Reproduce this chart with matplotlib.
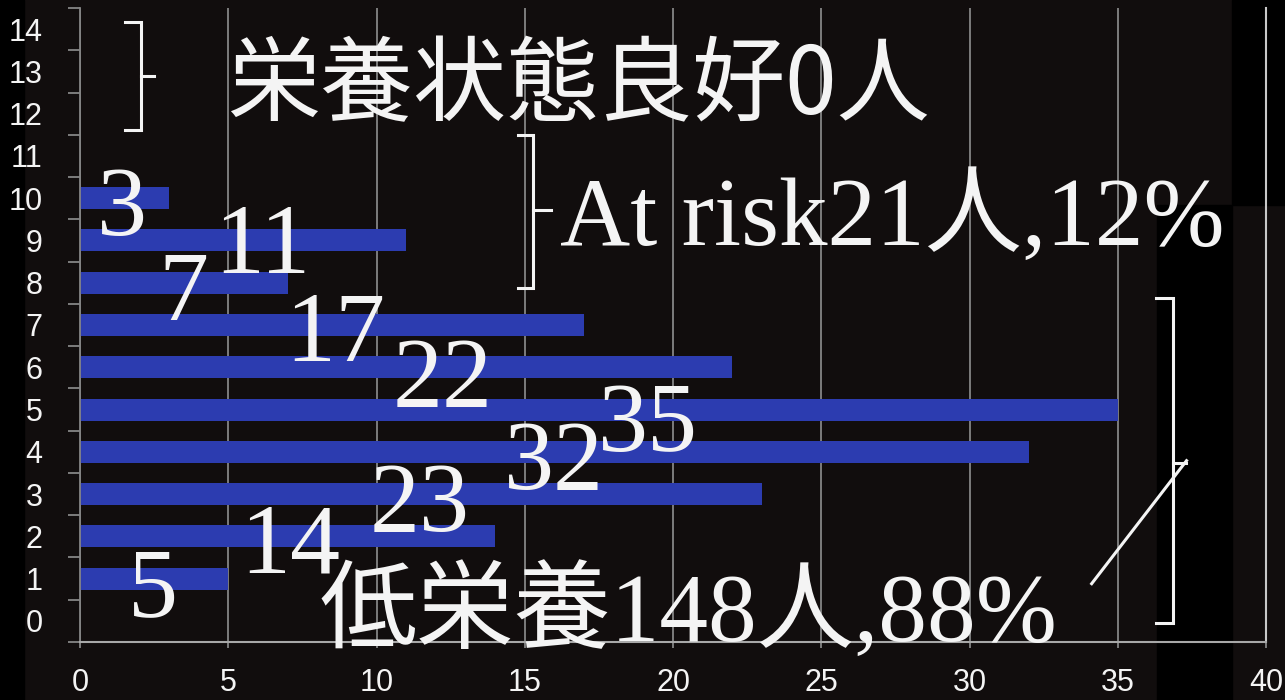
import matplotlib.pyplot as plt
from matplotlib.patches import Rectangle

# MNA score distribution (score -> number of people)
scores = list(range(15))
counts = [0, 5, 14, 23, 32, 35, 22, 17, 7, 11, 3, 0, 0, 0, 0]
xticks = [0, 5, 10, 15, 20, 25, 30, 35, 40]

# where each count label sits (x, baseline y) for the non-empty bars
label_pos = {1: (2.46, 0.12), 2: (7.08, 1.14), 3: (11.46, 2.13),
             4: (16.0, 3.13), 5: (19.15, 4.03), 6: (12.24, 5.09),
             7: (8.6, 6.16), 8: (3.47, 7.11), 9: (6.14, 8.22),
             10: (1.42, 9.12)}

good_text = '栄養状態良好0人'
risk_text = 'At risk21人,12%'
low_text = '低栄養148人,88%'

bg = '#110d0d'
fg = '#f4f4f4'
grid_c = '#858585'
serif = ['Liberation Serif', 'Noto Sans CJK JP']

fig = plt.figure(figsize=(12.85, 7.0), dpi=100, facecolor=bg)
ax = fig.add_axes([80 / 1285, 58 / 700, 1186 / 1285, 634 / 700])
ax.patch.set_visible(False)

# black blocks pasted over the slide
for x0, y0, w, h in [(0, 0, 24, 700), (1232, 495, 53, 205), (1157, 0, 75, 495)]:
    fig.add_artist(Rectangle((x0 / 1285, y0 / 700), w / 1285, h / 700,
                             transform=fig.transFigure, color='black',
                             zorder=-1))

ax.barh(scores, counts, height=0.52, color='#2c3cb0', zorder=2)

ax.set_xlim(0, 40)
ax.set_ylim(-0.5, 14.5)
ax.set_xticks(xticks)
ax.set_yticks(scores)
ax.set_yticks([s - 0.5 for s in scores] + [14.5], minor=True)
ax.grid(axis='x', color=grid_c, lw=1.3, zorder=1)
ax.set_axisbelow(True)
ax.axvline(40, color='#c8c8c8', lw=1.5, clip_on=False, zorder=1)

for s in ['top', 'right']:
    ax.spines[s].set_visible(False)
ax.spines['left'].set_color(grid_c)
ax.spines['bottom'].set_color('#a8a8a8')
ax.spines['left'].set_linewidth(1.3)
ax.spines['bottom'].set_linewidth(1.5)

ax.tick_params(axis='y', which='major', length=0, pad=27, labelsize=22,
               labelcolor=fg)
ax.tick_params(axis='y', which='minor', length=9, width=1.3, color=grid_c)
ax.tick_params(axis='x', length=4, width=1.3, color=grid_c, pad=15,
               labelsize=22, labelcolor=fg)
for lab in ax.get_xticklabels() + ax.get_yticklabels():
    lab.set_family('Liberation Sans')

for s, c in zip(scores, counts):
    if c:
        lx, ly = label_pos[s]
        ax.text(lx, ly, str(c), ha='center', va='baseline', fontsize=72,
                color=fg, family=serif, zorder=5)

# brackets
def bracket(x, y_top, y_bot, y_mid, serif_w, notch_w):
    ax.plot([x - serif_w, x, x, x - serif_w], [y_top, y_top, y_bot, y_bot],
            color=fg, lw=2.2, zorder=4, solid_joinstyle='miter')
    ax.plot([x, x + notch_w], [y_mid, y_mid], color=fg, lw=2.2, zorder=4)

bracket(2.06, 14.17, 11.61, 12.89, 0.55, 0.45)
bracket(15.27, 11.49, 7.87, 9.72, 0.5, 0.6)
bracket(36.85, 7.63, -0.05, 3.74, 0.55, 0.45)
ax.plot([34.12, 37.32], [0.88, 3.79], color=fg, lw=2.2, zorder=4)

ax.text(4.95, 12.62, good_text, ha='left', va='center', fontsize=67,
        color=fg, family=['Noto Sans CJK JP', 'DejaVu Sans'], zorder=5)
ax.text(16.18, 8.89, risk_text, ha='left', va='baseline', fontsize=70,
        color=fg, family=serif, zorder=5)
ax.text(8.09, -0.47, low_text, ha='left', va='baseline', fontsize=70,
        color=fg, family=serif, zorder=5, clip_on=False)

fig.savefig('out.png', dpi=100, facecolor=bg)
